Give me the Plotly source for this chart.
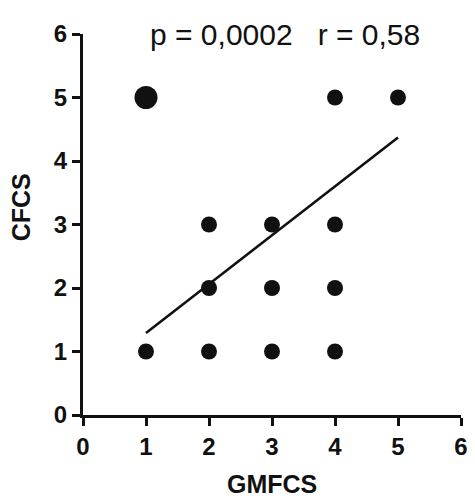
import plotly.graph_objects as go

gmfcs = [1, 4, 5, 2, 3, 4, 2, 3, 4, 1, 2, 3, 4]
cfcs = [5, 5, 5, 3, 3, 3, 2, 2, 2, 1, 1, 1, 1]
sizes = [23, 16, 16, 16, 16, 16, 16, 16, 16, 16, 16, 16, 16]
fit_x = [1, 5]
fit_y = [1.29, 4.37]
ticks = [0, 1, 2, 3, 4, 5, 6]
annotation_text = "p = 0,0002   r = 0,58"
x_title = "GMFCS"
y_title = "CFCS"

fig = go.Figure()
fig.add_trace(go.Scatter(x=fit_x, y=fit_y, mode="lines",
                         line=dict(color="#111111", width=2.6), showlegend=False))
fig.add_trace(go.Scatter(x=gmfcs, y=cfcs, mode="markers",
                         marker=dict(color="#111111", size=sizes, opacity=1,
                                     line=dict(width=0, color="#111111")),
                         opacity=1, showlegend=False, cliponaxis=False))

font = "Liberation Sans, Arial, sans-serif"
axis_common = dict(range=[0, 6], tickvals=ticks, showgrid=False, zeroline=False,
                   showline=True, linecolor="#111111", linewidth=3,
                   ticks="outside", ticklen=8, tickwidth=3, tickcolor="#111111",
                   tickfont=dict(family=font, size=24, color="#111111", weight="bold"))
fig.update_xaxes(**axis_common)
fig.update_yaxes(**axis_common)

fig.add_annotation(text=f"<b>{x_title}</b>", x=0.5, y=-0.18, xref="paper", yref="paper",
                   xanchor="center", yanchor="middle", showarrow=False, borderpad=0,
                   font=dict(family=font, size=25, color="#111111"))
fig.add_annotation(text=f"<b>{y_title}</b>", x=-0.164, y=0.545, xref="paper", yref="paper",
                   xanchor="center", yanchor="middle", textangle=-90, showarrow=False,
                   borderpad=0, font=dict(family=font, size=25, color="#111111"))

fig.add_annotation(text=annotation_text, x=3.2, y=1.0, xref="x", yref="paper",
                   yanchor="middle", showarrow=False,
                   font=dict(family=font, size=30, color="#111111"))

# page body has an 8px default margin, so the figure is 8px smaller than the window
fig.update_layout(width=467, height=491, plot_bgcolor="white", paper_bgcolor="white",
                  margin=dict(l=75, r=7, t=26, b=84))
fig.write_html("out.html")
